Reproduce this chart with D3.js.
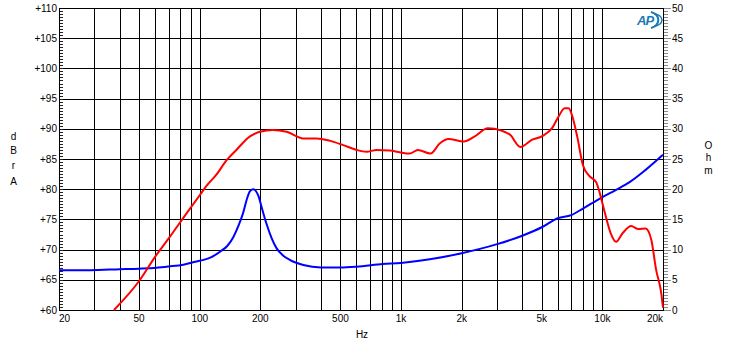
<!DOCTYPE html>
<html>
<head>
<meta charset="utf-8">
<script src="https://cdn.jsdelivr.net/npm/d3@7"></script>
<style>
  html, body { margin: 0; padding: 0; background: #fff; }
  svg { display: block; font-family: 'Liberation Sans', Arial, sans-serif; }
</style>
</head>
<body>
<div id="chart"></div>
<script>
// ── Data ──
// SPL response (dBrA) – red
const splFreq = [37.5, 50, 60, 71, 86, 100, 109, 121, 136, 152, 177, 199, 231, 270, 327, 381, 445, 516, 601, 674, 755, 880, 985, 1103, 1213, 1400, 1560, 1720, 2050, 2310, 2700, 3150, 3480, 3910, 4480, 5030, 5650, 6050, 6500, 6800, 7100, 7500, 8000, 8600, 9300, 9600, 10300, 11000, 11700, 12600, 13900, 15100, 16400, 17500, 18500, 19600, 20000];
const splDb   = [60, 64.8, 68.8, 72.1, 76.0, 79.0, 80.7, 82.4, 84.8, 86.5, 88.7, 89.5, 89.8, 89.5, 88.4, 88.4, 88.0, 87.3, 86.5, 86.2, 86.5, 86.4, 86.1, 85.9, 86.5, 85.9, 87.6, 88.3, 87.9, 88.7, 90.1, 89.7, 89.0, 87.0, 88.2, 88.8, 90.2, 92.0, 93.4, 93.4, 92.0, 88.7, 84.0, 82.2, 81.2, 79.9, 76.0, 72.7, 71.3, 72.7, 73.9, 73.4, 73.5, 71.6, 66.6, 62.8, 60.4];

// Impedance (Ohm) – blue
const impFreq = [20, 28.5, 40, 50, 61, 70, 83, 95, 104.5, 115, 126, 137, 147, 156, 164, 172, 177, 184, 190, 195, 205, 214, 227, 241, 260, 280, 327, 400, 500, 601, 810, 1000, 1390, 2000, 3000, 4000, 5000, 6000, 7000, 8000, 9000, 10000, 11700, 13700, 16400, 20000];
const impOhm  = [6.6, 6.6, 6.75, 6.85, 7.0, 7.2, 7.5, 8.0, 8.3, 8.8, 9.65, 10.6, 12.1, 14.0, 16.0, 18.5, 19.6, 20.0, 19.7, 19.0, 16.5, 14.4, 12.0, 10.2, 9.0, 8.3, 7.45, 7.05, 7.05, 7.17, 7.6, 7.8, 8.4, 9.4, 10.9, 12.3, 13.7, 15.2, 15.7, 16.8, 17.8, 18.7, 19.9, 21.2, 23.2, 25.7];

// Axis ticks
const xTickValues = [20, 50, 100, 200, 500, 1000, 2000, 5000, 10000, 20000];
const xTickLabels = ['20', '50', '100', '200', '500', '1k', '2k', '5k', '10k', '20k'];
const dbTicks = [60, 65, 70, 75, 80, 85, 90, 95, 100, 105, 110];
const ohmTicks = [0, 5, 10, 15, 20, 25, 30, 35, 40, 45, 50];

// ── Layout ──
const W = 730, H = 343;
const PLOT = { left: 59, top: 8, right: 663, bottom: 310 };

const svg = d3.select('#chart').append('svg')
  .attr('width', W)
  .attr('height', H);

svg.append('rect').attr('width', W).attr('height', H).attr('fill', '#fff');

// ── Scales ──
const x = d3.scaleLog().domain([20, 20000]).range([PLOT.left, PLOT.right]);
const yDb = d3.scaleLinear().domain([60, 110]).range([PLOT.bottom, PLOT.top]);
const yOhm = d3.scaleLinear().domain([0, 50]).range([PLOT.bottom, PLOT.top]);

// ── Grid ──
const vGrid = [];
[10, 100, 1000, 10000].forEach(dec => {
  for (let m = 1; m <= 9; m++) {
    const f = dec * m;
    if (f > 20 && f < 20000) vGrid.push(f);
  }
});

const grid = svg.append('g').attr('stroke', '#000').attr('stroke-width', 1).attr('shape-rendering', 'crispEdges');
grid.selectAll('line.v').data(vGrid).enter().append('line')
  .attr('x1', d => Math.round(x(d)) + 0.5).attr('x2', d => Math.round(x(d)) + 0.5)
  .attr('y1', PLOT.top).attr('y2', PLOT.bottom);
grid.selectAll('line.h').data(dbTicks.slice(1, -1)).enter().append('line')
  .attr('x1', PLOT.left).attr('x2', PLOT.right)
  .attr('y1', d => Math.round(yDb(d)) + 0.5).attr('y2', d => Math.round(yDb(d)) + 0.5);

// ── Minor ticks: left inside (dark), right outside (gray) ──
const halfSteps = d3.range(0, 101).map(i => i * 0.5);
svg.append('g').attr('stroke', '#222').attr('shape-rendering', 'crispEdges')
  .selectAll('line').data(halfSteps).enter().append('line')
  .attr('x1', PLOT.left).attr('x2', PLOT.left + 4)
  .attr('y1', d => Math.round(yDb(60 + d)) + 0.5).attr('y2', d => Math.round(yDb(60 + d)) + 0.5);

svg.append('g').attr('stroke', '#888').attr('shape-rendering', 'crispEdges')
  .selectAll('line').data(halfSteps).enter().append('line')
  .attr('x1', PLOT.right).attr('x2', d => PLOT.right + (d % 5 === 0 ? 8 : 5))
  .attr('y1', d => Math.round(yOhm(d)) + 0.5).attr('y2', d => Math.round(yOhm(d)) + 0.5);

// ── Frame ──
svg.append('rect')
  .attr('x', PLOT.left + 0.5).attr('y', PLOT.top + 0.5)
  .attr('width', PLOT.right - PLOT.left).attr('height', PLOT.bottom - PLOT.top)
  .attr('fill', 'none').attr('stroke', '#000').attr('stroke-width', 1)
  .attr('shape-rendering', 'crispEdges');

// ── Tick labels ──
svg.append('g').selectAll('text').data(dbTicks).enter().append('text')
  .attr('x', 57).attr('y', d => yDb(d) + 3.5)
  .attr('text-anchor', 'end').attr('font-size', '10px').attr('fill', '#000')
  .text(d => '+' + d);

svg.append('g').selectAll('text').data(ohmTicks).enter().append('text')
  .attr('x', 672).attr('y', d => yOhm(d) + 3.5)
  .attr('text-anchor', 'start').attr('font-size', '10px').attr('fill', '#000')
  .text(d => d);

svg.append('g').selectAll('text').data(xTickValues).enter().append('text')
  .attr('x', (d, i) => i === 0 ? PLOT.left : i === xTickValues.length - 1 ? PLOT.right : x(d))
  .attr('y', 322)
  .attr('text-anchor', (d, i) => i === 0 ? 'start' : i === xTickValues.length - 1 ? 'end' : 'middle')
  .attr('font-size', '10px').attr('fill', '#000')
  .text((d, i) => xTickLabels[i]);

// ── Axis titles (stacked letters) ──
svg.append('text').attr('x', 362).attr('y', 338).attr('text-anchor', 'middle')
  .attr('font-size', '10px').text('Hz');

const leftTitle = [['d', 140], ['B', 154], ['r', 168.5], ['A', 185]];
svg.append('g').selectAll('text').data(leftTitle).enter().append('text')
  .attr('x', 13.5).attr('y', d => d[1]).attr('text-anchor', 'middle')
  .attr('font-size', '10px').text(d => d[0]);

const rightTitle = [['O', 149], ['h', 161], ['m', 173.5]];
svg.append('g').selectAll('text').data(rightTitle).enter().append('text')
  .attr('x', 708.5).attr('y', d => d[1]).attr('text-anchor', 'middle')
  .attr('font-size', '10px').text(d => d[0]);

// ── Curves ──
svg.append('defs').append('clipPath').attr('id', 'plotClip')
  .append('rect').attr('x', PLOT.left).attr('y', PLOT.top)
  .attr('width', PLOT.right - PLOT.left + 1).attr('height', PLOT.bottom - PLOT.top + 1);

const curves = svg.append('g').attr('clip-path', 'url(#plotClip)');

const impLine = d3.line()
  .x(d => x(d[0])).y(d => yOhm(d[1]))
  .curve(d3.curveMonotoneX);
curves.append('path')
  .datum(impFreq.map((f, i) => [f, impOhm[i]]))
  .attr('d', impLine)
  .attr('fill', 'none').attr('stroke', '#0000ff').attr('stroke-width', 2);

const splLine = d3.line()
  .x(d => x(d[0])).y(d => yDb(d[1]))
  .curve(d3.curveMonotoneX);
curves.append('path')
  .datum(splFreq.map((f, i) => [f, splDb[i]]))
  .attr('d', splLine)
  .attr('fill', 'none').attr('stroke', '#ff0000').attr('stroke-width', 2);

// ── AP logo ──
const logo = svg.append('g').attr('transform', 'translate(636,10)');
logo.append('path')
  .attr('d', 'M15,2 A11,8.5 0 0 1 15,18')
  .attr('fill', 'none').attr('stroke', '#1b78b8').attr('stroke-width', 2);
logo.append('path')
  .attr('d', 'M18,4 A8,6 0 0 1 18,16')
  .attr('fill', 'none').attr('stroke', '#1b78b8').attr('stroke-width', 1.5);
logo.append('text')
  .attr('x', 1).attr('y', 15)
  .attr('font-size', '13px').attr('font-weight', 'bold').attr('font-style', 'italic')
  .attr('fill', '#1b78b8').attr('letter-spacing', '-1px')
  .text('AP');
</script>
</body>
</html>
